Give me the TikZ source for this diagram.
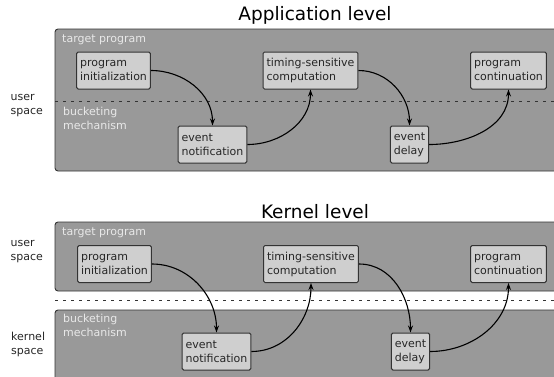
\documentclass[tikz,border=0pt]{standalone}
\usepackage{fontspec}
\setmainfont{DejaVu Sans}
\usetikzlibrary{arrows.meta,positioning}
\definecolor{panelgray}{HTML}{999999}
\definecolor{boxgray}{HTML}{CFCFCF}
\definecolor{labelgray}{HTML}{E8E8E8}
\definecolor{edgegray}{HTML}{333333}

\begin{document}
\begin{tikzpicture}[x=1pt, y=1pt,
  panel/.style={draw=edgegray, fill=panelgray, rounded corners=3pt, line width=0.9pt},
  proc/.style={rectangle, draw=edgegray, fill=boxgray, rounded corners=1.5pt, line width=1pt, align=left, inner sep=3.5pt, minimum height=37pt, text=black!85, font=\fontsize{11}{14}\selectfont},
  area/.style={text=labelgray, align=left, inner sep=0pt, font=\fontsize{11}{14}\selectfont},
  side/.style={align=left, inner sep=0pt, text=black!85, font=\fontsize{11}{14}\selectfont},
  title/.style={inner sep=0pt, font=\fontsize{18.5}{22}\selectfont},
  flow/.style={-{Stealth[length=7pt, width=5pt]}, line width=1.1pt},
  split/.style={dash pattern=on 3pt off 5pt, line width=0.8pt, draw=black!80}
]
\clip (0,0) rectangle (554,376);

% application level
\node[title] (appT) at (315,361) {Application level};
\draw[panel] (55,205) rectangle (562,347);
\draw[split] (55,275) -- (554,275);
\node[area, anchor=base west] (tpA) at (62,334) {target program};
\node[area, anchor=north west] (bmA) at (63,269) {bucketing\\mechanism};
\node[side, anchor=west] (usA) at (10.5,270) {user\\space};

\node[proc] (initA) at (113.5,305.5) {program\\initialization};
\node[proc] (timeA) at (310.5,305.5) {timing-sensitive\\computation};
\node[proc] (contA) at (508.5,305.5) {program\\continuation};
\node[proc] (notifA) at (212.5,231.5) {event\\notification};
\node[proc] (delayA) at (409.5,231.5) {event\\delay};

\draw[flow] (initA.east) to[out=0, in=90] (notifA.north);
\draw[flow] (notifA.east) to[out=0, in=-90] (timeA.south);
\draw[flow] (timeA.east) to[out=0, in=90] (delayA.north);
\draw[flow] (delayA.east) to[out=0, in=-90] (contA.south);

% kernel level
\node[title] (kerT) at (315,164) {Kernel level};
\draw[panel] (55,85) rectangle (562,154);
\draw[panel] (55,-10) rectangle (562,66);
\draw[split] (55,76) -- (554,76);
\node[area, anchor=base west] (tpK) at (62,141) {target program};
\node[area, anchor=north west] (bmK) at (63,62) {bucketing\\mechanism};
\node[side, anchor=west] (usK) at (10.5,124) {user\\space};
\node[side, anchor=west] (ksK) at (11,32) {kernel\\space};

\node[proc] (initK) at (114.5,112) {program\\initialization};
\node[proc] (timeK) at (311,112) {timing-sensitive\\computation};
\node[proc] (contK) at (508.5,112) {program\\continuation};
\node[proc] (notifK) at (216.5,24.5) {event\\notification};
\node[proc] (delayK) at (410.5,24.5) {event\\delay};

\draw[flow] (initK.east) to[out=0, in=90] (notifK.north);
\draw[flow] (notifK.east) to[out=0, in=-90] (timeK.south);
\draw[flow] (timeK.east) to[out=0, in=90] (delayK.north);
\draw[flow] (delayK.east) to[out=0, in=-90] (contK.south);
\end{tikzpicture}
\end{document}
